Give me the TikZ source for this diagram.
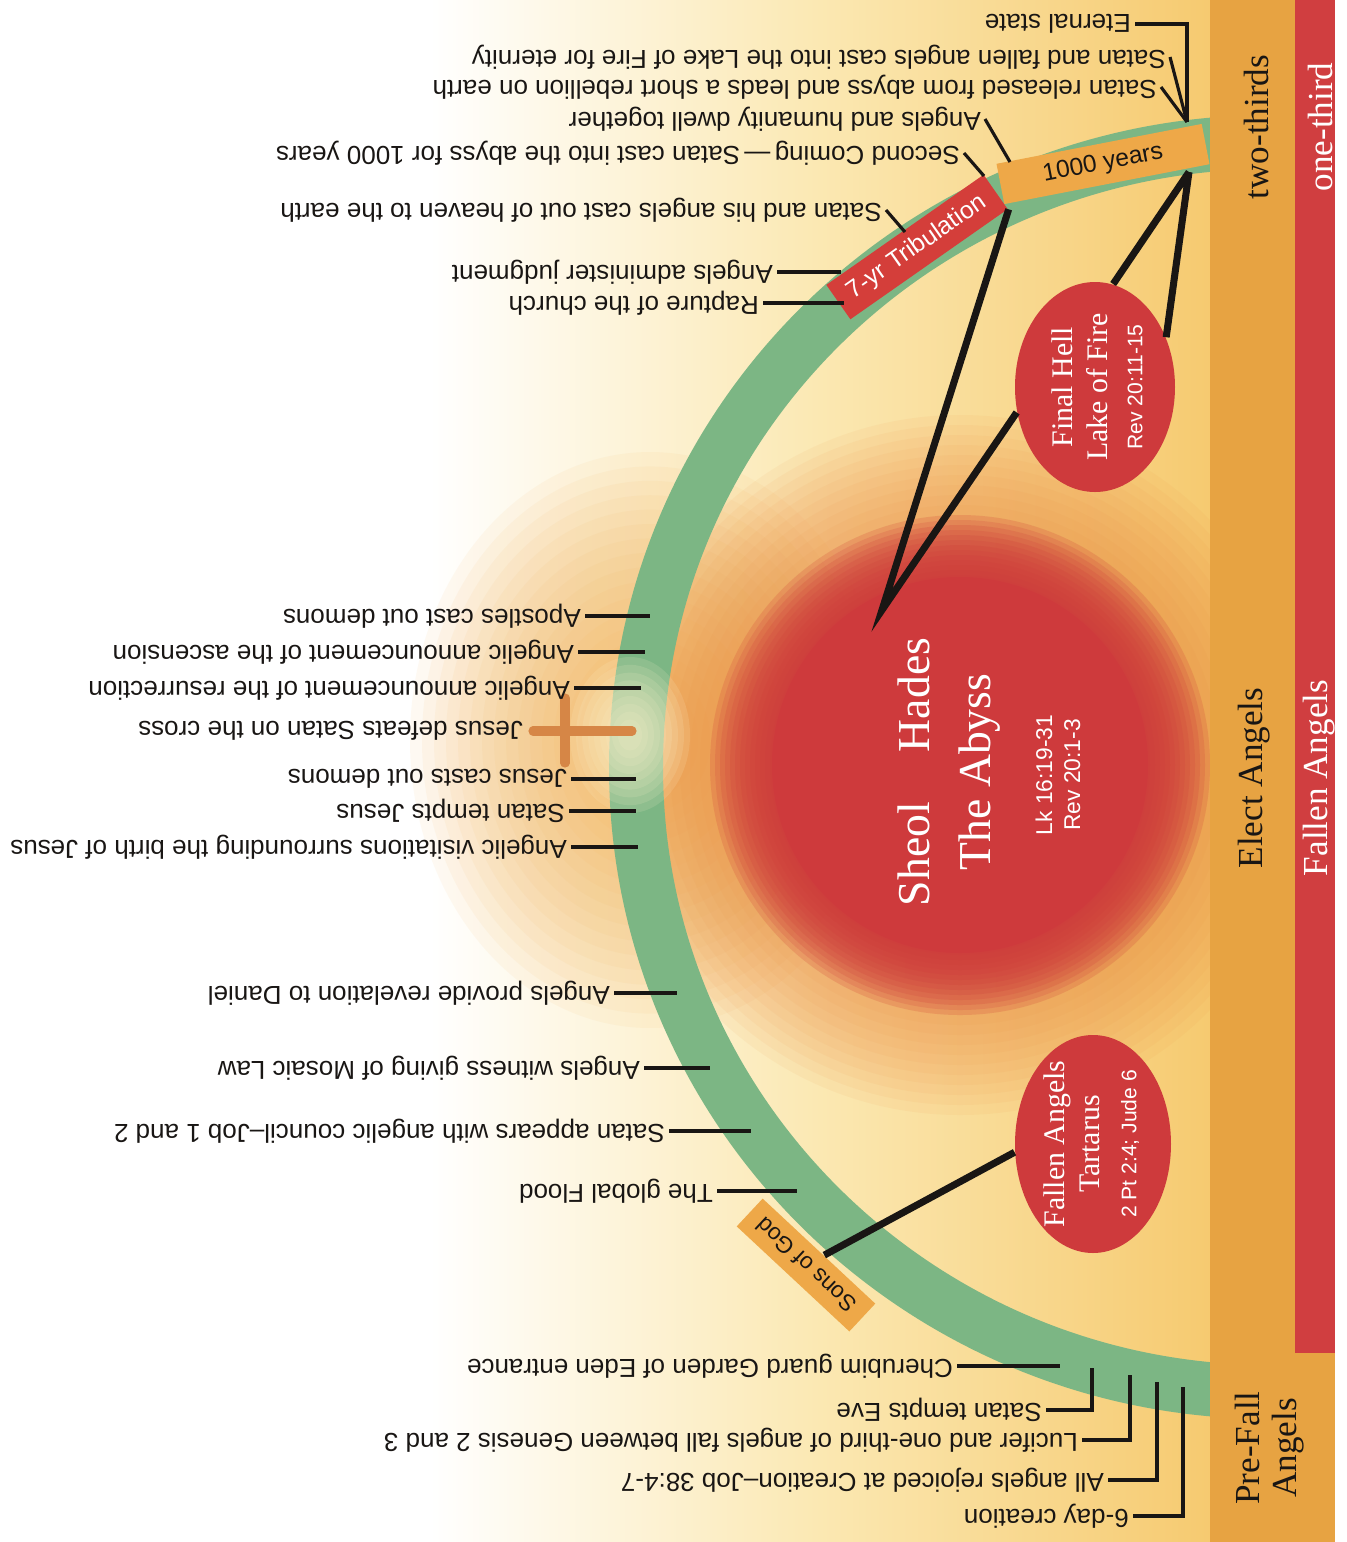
\documentclass[tikz,border=0pt]{standalone}
\usepackage{fontspec}
\setmainfont{Liberation Serif}
\setsansfont{Liberation Sans}
\usetikzlibrary{positioning, shapes.geometric}

\definecolor{ink}{RGB}{25,22,20}
\definecolor{washpale}{RGB}{251,232,178}
\definecolor{washdeep}{RGB}{246,202,112}
\definecolor{crossglow}{RGB}{244,176,84}
\definecolor{pitglow}{RGB}{236,138,62}
\definecolor{pitred}{RGB}{206,58,60}
\definecolor{tribred}{RGB}{212,62,58}
\definecolor{boxorange}{RGB}{238,168,72}
\definecolor{bandorange}{RGB}{231,163,66}
\definecolor{bandred}{RGB}{208,62,64}
\definecolor{arcgreen}{RGB}{124,182,132}
\definecolor{crossbrown}{RGB}{214,134,70}
\definecolor{halo}{RGB}{252,242,205}

\begin{document}
\begin{tikzpicture}[x=0.1mm, y=-0.1mm,
    lbl/.style={font=\sffamily\fontsize{7.4}{9}\selectfont, text=ink, rotate=180, anchor=west, inner sep=1pt},
    lead/.style={draw=ink, line width=1.1pt},
    tick/.style={draw=ink, line width=0.9pt},
    heavy/.style={draw=ink, line width=2pt},
    tag/.style={font=\sffamily\fontsize{7}{8}\selectfont, inner sep=0pt},
    pit/.style={ellipse, fill=pitred, rotate=90, inner sep=0pt},
    pittext/.style={text=white, rotate=90, align=center, font=\fontsize{8.5}{10}\selectfont},
    pitref/.style={text=white, rotate=90, align=center, font=\sffamily\fontsize{6}{7.5}\selectfont},
    bandtext/.style={rotate=90, align=center, font=\fontsize{10}{12.5}\selectfont}]

    \useasboundingbox (0,0) rectangle (1347,1542);

    % Background wash
    \fill[white] (0,0) rectangle (1347,1542);
    \shade[left color=white, right color=washdeep, middle color=washpale] (430,0) rectangle (1210,1542);

    % Glow round the cross
    \foreach \r in {240,228,...,40}
        \fill[crossglow, fill opacity=0.07] (650,740) ellipse [x radius=\r*0.1mm, y radius=\r*0.12mm];
    % Glow and core of the abyss
    \foreach \r in {350,340,...,200}
        \fill[pitglow, fill opacity=0.07] (960,765) circle [radius=\r*0.1mm];
    \foreach \r in {250,245,...,190}
        \fill[pitred, fill opacity=0.18] (960,765) circle [radius=\r*0.1mm];
    \fill[pitred] (960,765) circle [radius=18.8mm];

    % Timeline arc
    \begin{scope}
        \clip (0,0) rectangle (1210,1542);
        \draw[arcgreen, line width=5.4mm] (1270,767) ellipse [x radius=63.4mm, y radius=62.5mm];
    \end{scope}
    \foreach \r in {60,54,...,12}
        \fill[halo, fill opacity=0.14] (630,735) ellipse [x radius=\r*0.1mm, y radius=\r*0.13mm];
    \draw[crossbrown, line width=2.6pt, line cap=round] (533,731) -- (632,731) (565,698) -- (565,763);

    % Bands of angels
    \fill[bandorange] (1210,0) rectangle (1335,1542);
    \fill[bandred] (1295,0) rectangle (1335,1353);
    \node[bandtext, text=ink] (two) at (1256,127) {two-thirds};
    \node[bandtext, text=white] (one) at (1320,127) {one-third};
    \node[bandtext, text=ink] (elect) at (1254,778) {Elect Angels};
    \node[bandtext, text=white] (fallen) at (1319,778) {Fallen Angels};
    \node[bandtext, text=ink, font=\fontsize{10}{10.5}\selectfont] (prefall) at (1270,1448) {Pre-Fall\\Angels};

    % Periods on the arc
    \node[tag, fill=tribred, text=white, rotate=35, minimum width=19.2mm, minimum height=4.2mm] (trib) at (917,247) {7-yr Tribulation};
    \node[tag, fill=boxorange, text=ink, rotate=11, minimum width=20.9mm, minimum height=4.1mm] (mill) at (1103,164) {1000 years};
    \node[tag, fill=boxorange, text=ink, rotate=137, minimum width=15.4mm, minimum height=3.8mm, font=\sffamily\fontsize{6.5}{8}\selectfont] (sons) at (806,1265) {Sons of God};

    % Places of confinement
    \node[pit, minimum width=21.8mm, minimum height=15.6mm] (tart) at (1093,1144) {};
    \node[pittext] (tartname) at ([xshift=-2.1mm]tart.center) {Fallen Angels\\Tartarus};
    \node[pitref] (tartref) at ([xshift=3.7mm]tart.center) {2 Pt 2:4; Jude 6};
    \node[pit, minimum width=21mm, minimum height=16mm] (hell) at (1095,387) {};
    \node[pittext] (hellname) at ([xshift=-1.5mm]hell.center) {Final Hell\\Lake of Fire};
    \node[pitref] (hellref) at ([xshift=4mm]hell.center) {Rev 20:11-15};
    \node[pittext, font=\fontsize{13}{17.5}\selectfont] (sheol) at (949,772) {Sheol\hspace{5mm}Hades\\The Abyss};
    \node[pitref, font=\sffamily\fontsize{6.5}{8}\selectfont] (sheolref) at (1058,775) {Lk 16:19-31\\Rev 20:1-3};

    % Heavy connectors
    \coordinate (apex) at (882,610);
    \coordinate (millfoot) at (1189,172);
    \draw[heavy, line join=miter] (trib.south east) -- (apex) -- (hell.108);
    \draw[heavy] (millfoot) -- (hell.-10) (millfoot) -- (hell.-55);
    \draw[heavy] (sons) -- (tart.96);

    % Events at the end of the arc
    \coordinate (conv) at (1187,122);
    \coordinate (t1) at (1010,162);
    \coordinate (t2) at (984,176);
    \coordinate (t3) at (905,232);
    \coordinate (t4) at (841,272);
    \coordinate (t5) at (844,303);
    \node[lbl] (eter) at (1135,24) {Eternal state};
    \node[lbl] (lake) at (1170,57) {Satan and fallen angels cast into the Lake of Fire for eternity};
    \node[lbl] (rebel) at (1161,87) {Satan released from abyss and leads a short rebellion on earth};
    \node[lbl] (dwell) at (985,119) {Angels and humanity dwell together};
    \node[lbl] (second) at (964,153) {Second Coming\,—\,Satan cast into the abyss for 1000 years};
    \node[lbl] (heaven) at (886,210) {Satan and his angels cast out of heaven to the earth};
    \node[lbl] (judg) at (777,272) {Angels administer judgment};
    \node[lbl] (rapt) at (763,303) {Rapture of the church};
    \draw[tick] (eter.west) -- (eter.west -| conv) -- (conv);
    \draw[tick] (lake.west) -- (conv);
    \draw[tick] (rebel.west) -- (conv);
    \draw[tick] (dwell.west) -- (t1);
    \draw[tick] (second.west) -- (t2);
    \draw[tick] (heaven.west) -- (t3);
    \draw[lead] (judg.west) -- (t4);
    \draw[lead] (rapt.west) -- (t5);

    % Events along the middle of the arc
    \coordinate (m1) at (650,616);
    \coordinate (m2) at (645,652);
    \coordinate (m3) at (641,688);
    \coordinate (m4) at (636,779);
    \coordinate (m5) at (636,811);
    \coordinate (m6) at (638,847);
    \coordinate (m7) at (677,993);
    \coordinate (m8) at (710,1068);
    \coordinate (m9) at (751,1131);
    \coordinate (m10) at (797,1191);
    \node[lbl] (apost) at (585,616) {Apostles cast out demons};
    \node[lbl] (ascen) at (578,652) {Angelic announcement of the ascension};
    \node[lbl] (resur) at (574,688) {Angelic announcement of the resurrection};
    \node[lbl] (defeat) at (527,731) {Jesus defeats Satan on the cross};
    \node[lbl] (casts) at (571,779) {Jesus casts out demons};
    \node[lbl] (tempt) at (569,811) {Satan tempts Jesus};
    \node[lbl] (birth) at (571,847) {Angelic visitations surrounding the birth of Jesus};
    \node[lbl] (daniel) at (614,993) {Angels provide revelation to Daniel};
    \node[lbl] (mosaic) at (644,1068) {Angels witness giving of Mosaic Law};
    \node[lbl] (council) at (669,1131) {Satan appears with angelic council–Job 1 and 2};
    \node[lbl] (flood) at (717,1191) {The global Flood};
    \draw[lead] (apost.west) -- (m1);
    \draw[lead] (ascen.west) -- (m2);
    \draw[lead] (resur.west) -- (m3);
    \draw[lead] (casts.west) -- (m4);
    \draw[lead] (tempt.west) -- (m5);
    \draw[lead] (birth.west) -- (m6);
    \draw[lead] (daniel.west) -- (m7);
    \draw[lead] (mosaic.west) -- (m8);
    \draw[lead] (council.west) -- (m9);
    \draw[lead] (flood.west) -- (m10);

    % Events at the start of the arc
    \coordinate (b1) at (1060,1366);
    \coordinate (b2) at (1092,1368);
    \coordinate (b3) at (1130,1375);
    \coordinate (b4) at (1157,1382);
    \coordinate (b5) at (1183,1387);
    \node[lbl] (eden) at (957,1366) {Cherubim guard Garden of Eden entrance};
    \node[lbl] (eve) at (1046,1410) {Satan tempts Eve};
    \node[lbl] (lucifer) at (1082,1440) {Lucifer and one-third of angels fall between Genesis 2 and 3};
    \node[lbl] (rejoice) at (1108,1480) {All angels rejoiced at Creation–Job 38:4-7};
    \node[lbl] (create) at (1133,1516) {6-day creation};
    \draw[lead] (eden.west) -- (b1);
    \draw[lead] (eve.west) -- (eve.west -| b2) -- (b2);
    \draw[lead] (lucifer.west) -- (lucifer.west -| b3) -- (b3);
    \draw[lead] (rejoice.west) -- (rejoice.west -| b4) -- (b4);
    \draw[lead] (create.west) -- (create.west -| b5) -- (b5);
\end{tikzpicture}
\end{document}
